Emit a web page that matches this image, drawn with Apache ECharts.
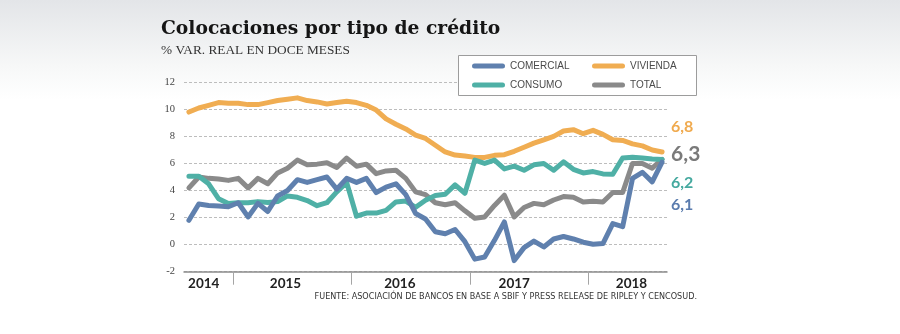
<!DOCTYPE html>
<html><head><meta charset="utf-8">
<script src="https://cdn.jsdelivr.net/npm/echarts@6/dist/echarts.min.js"></script>
<style>html,body{margin:0;padding:0;background:#fff}#c{width:900px;height:334px}</style>
</head><body><div id="c"></div>
<script>
const months = ["2014-08","2014-09","2014-10","2014-11","2014-12",
"2015-01","2015-02","2015-03","2015-04","2015-05","2015-06","2015-07","2015-08","2015-09","2015-10","2015-11","2015-12",
"2016-01","2016-02","2016-03","2016-04","2016-05","2016-06","2016-07","2016-08","2016-09","2016-10","2016-11","2016-12",
"2017-01","2017-02","2017-03","2017-04","2017-05","2017-06","2017-07","2017-08","2017-09","2017-10","2017-11","2017-12",
"2018-01","2018-02","2018-03","2018-04","2018-05","2018-06","2018-07","2018-08"];
const comercial = [1.8,3.0,2.9,2.85,2.8,3.1,2.05,3.05,2.45,3.6,4.0,4.8,4.6,4.8,5.0,4.1,4.9,4.6,4.9,3.85,4.25,4.5,3.7,2.3,1.9,0.95,0.8,1.12,0.22,-1.07,-0.91,0.32,1.68,-1.18,-0.22,0.26,-0.17,0.42,0.6,0.42,0.18,0.03,0.08,1.56,1.33,4.89,5.35,4.64,6.1];
const vivienda = [9.8,10.1,10.3,10.5,10.45,10.45,10.35,10.35,10.5,10.65,10.75,10.85,10.65,10.55,10.4,10.5,10.6,10.5,10.3,9.95,9.3,8.9,8.55,8.1,7.85,7.35,6.85,6.62,6.55,6.45,6.45,6.6,6.65,6.9,7.2,7.5,7.75,8.0,8.4,8.5,8.2,8.45,8.15,7.75,7.7,7.45,7.3,7.0,6.85];
const consumo = [5.05,5.05,4.5,3.4,3.04,3.1,3.1,3.18,3.12,3.18,3.6,3.5,3.26,2.88,3.1,3.9,4.6,2.1,2.33,2.33,2.54,3.16,3.22,2.76,3.28,3.63,3.72,4.42,3.8,6.25,6.0,6.25,5.6,5.8,5.5,5.9,6.0,5.5,6.12,5.57,5.3,5.4,5.23,5.2,6.4,6.46,6.4,6.33,6.3];
const total = [4.2,5.0,4.9,4.85,4.75,4.9,4.2,4.9,4.5,5.3,5.65,6.25,5.9,5.95,6.05,5.7,6.4,5.8,5.95,5.25,5.45,5.5,4.9,3.9,3.7,3.1,2.95,3.1,2.5,1.95,2.05,2.9,3.65,2.05,2.75,3.05,2.95,3.3,3.55,3.5,3.15,3.2,3.15,3.85,3.85,6.0,6.0,5.65,6.3];
const yearLabels = ["2014","2015","2016","2017","2018"];
const yTicks = [-2,0,2,4,6,8,10,12];
const endLabels = {COMERCIAL:"6,1", CONSUMO:"6,2", VIVIENDA:"6,8", TOTAL:"6,3"};
const titleText = "Colocaciones por tipo de crédito";
const subtitleText = "% VAR. REAL EN DOCE MESES";
const sourceText = "FUENTE: ASOCIACIÓN DE BANCOS EN BASE A SBIF Y PRESS RELEASE DE RIPLEY Y CENCOSUD.";

// layout (not data)
const yearLabelPos = [9, 17.3, 28.9, 40.5, 52.4];
const baseYear = 2014;
function monthPos(s){ const p = s.split('-').map(Number); return (p[0]-baseYear)*12 + (p[1]-1) + 0.5; }
const yearBoundaries = yearLabels.slice(1).map(y => (Number(y)-baseYear)*12);
const pairs = arr => months.map((m,i) => [monthPos(m), arr[i]]);

const colors = {COMERCIAL:'#5f80ae', CONSUMO:'#4fb0a6', VIVIENDA:'#f0ad52', TOTAL:'#8a8a8a'};
const labelStyle = {
  COMERCIAL:{dy:42.5, size:16, weight:'bold', color:'#5a7cae'},
  CONSUMO:{dy:23, size:16, weight:'bold', color:'#45a99f'},
  VIVIENDA:{dy:-25.5, size:16, weight:'bold', color:'#f0aa4e'},
  TOTAL:{dy:-5, size:21, weight:'bold', color:'#7a7a7a'}
};

function mk(name, arr, z){
  const d = pairs(arr);
  const ls = labelStyle[name];
  return {
    name, type:'line', data:d, symbol:'none', showSymbol:false, smooth:false, z,
    lineStyle:{color:colors[name], width:5, cap:'round', join:'round'},
    itemStyle:{color:colors[name]},
    emphasis:{disabled:true},
    markPoint:{
      silent:true, animation:false, symbol:'circle', symbolSize:1,
      itemStyle:{color:'rgba(0,0,0,0)'},
      data:[{coord:d[d.length-1], label:{show:true, position:'right', distance:5, offset:[3.5, ls.dy],
        formatter:endLabels[name], color:ls.color, fontFamily:'Lato', fontWeight:ls.weight, fontSize:ls.size}}]
    }
  };
}

const legendText = {fontFamily:'Liberation Sans', fontSize:10, color:'#4a4a4a', lineHeight:14};
const pill = 'path://M2.5,0 H30.5 A2.5,2.5 0 0 1 30.5,5 H2.5 A2.5,2.5 0 0 1 2.5,0 Z';

const chart = echarts.init(document.getElementById('c'), null, {renderer:'canvas'});
chart.setOption({
  animation:false,
  backgroundColor:{type:'linear', x:0, y:0, x2:0, y2:1, colorStops:[
    {offset:0, color:'#e3e5e8'}, {offset:0.2, color:'#f7f8f8'}, {offset:0.3, color:'#ffffff'}, {offset:1, color:'#ffffff'}]},
  title:[
    {text:titleText, left:161, top:18, padding:0, textStyle:{fontFamily:'DejaVu Serif', fontWeight:'bold', fontSize:18.7, color:'#151515', lineHeight:22}},
    {text:subtitleText, left:161, top:44, padding:0, textStyle:{fontFamily:'Liberation Serif', fontWeight:'normal', fontSize:13.3, color:'#333', lineHeight:14}}
  ],
  grid:{left:184, right:233, top:82.3, bottom:62.3, containLabel:false},
  xAxis:{type:'value', min:7, max:56,
    axisLine:{show:true, onZero:false, lineStyle:{color:'#8c8c8c', width:1.5}},
    axisTick:{show:true, customValues:yearBoundaries, length:13, lineStyle:{color:'#a5a5a5', width:1}},
    axisLabel:{customValues:yearLabelPos, formatter:v => yearLabels[Math.floor(v/12)], margin:5,
      fontFamily:'Lato', fontWeight:'bold', fontSize:13.5, color:'#222'},
    splitLine:{show:false}},
  yAxis:{type:'value', min:-2, max:12, interval:2,
    axisLine:{show:false}, axisTick:{show:false},
    axisLabel:{margin:9, fontFamily:'Liberation Sans Narrow', fontSize:10.5, color:'#444',
      formatter:v => yTicks.includes(v) ? String(v) : ''},
    splitLine:{show:true, lineStyle:{color:'#bdbdbd', type:[3,2], width:1}}},
  legend:[
    {data:['COMERCIAL','CONSUMO'], orient:'vertical', left:472, top:59, padding:0, itemWidth:33, itemHeight:5, itemGap:5,
     icon:pill, textStyle:legendText, selectedMode:false, z:20},
    {data:['VIVIENDA','TOTAL'], orient:'vertical', left:592, top:59, padding:0, itemWidth:33, itemHeight:5, itemGap:5,
     icon:pill, textStyle:legendText, selectedMode:false, z:20}
  ],
  graphic:[
    {type:'rect', left:458, top:55, z:10, shape:{width:238, height:40}, style:{fill:'#ffffff', stroke:'#9c9c9c', lineWidth:1}},
    {type:'text', right:203, top:292.5, z:10, style:{text:sourceText, font:'9px "Liberation Sans Narrow", "DejaVu Sans Condensed", sans-serif', fill:'#333'}}
  ],
  series:[
    mk('TOTAL', total, 2),
    mk('VIVIENDA', vivienda, 3),
    mk('CONSUMO', consumo, 4),
    mk('COMERCIAL', comercial, 5)
  ]
});
</script></body></html>
